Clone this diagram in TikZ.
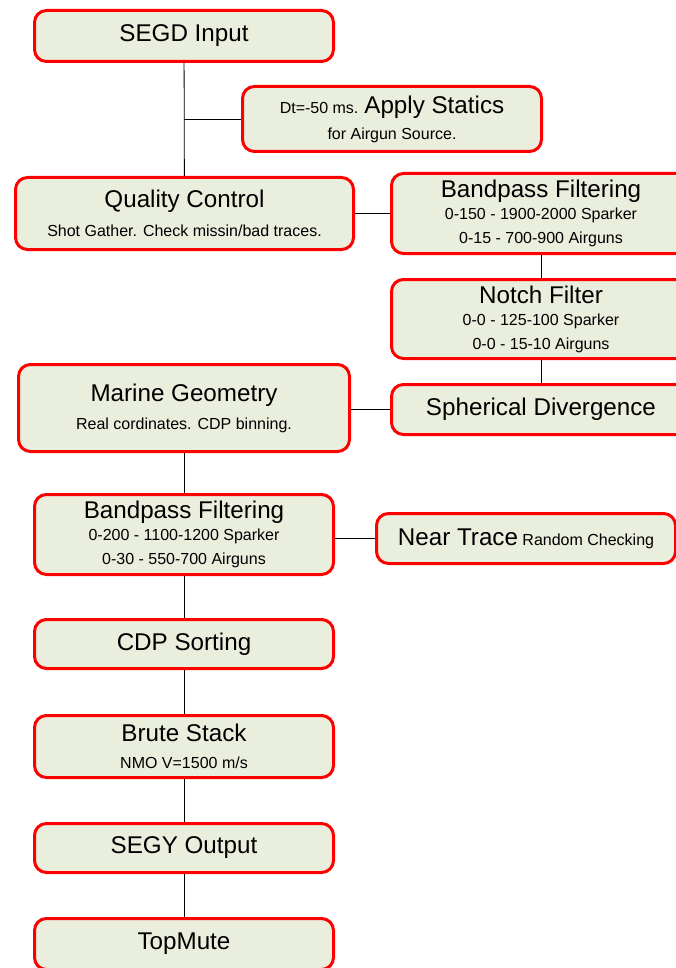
\documentclass[tikz,border=0pt]{standalone}
\usepackage{fontspec}
\setmainfont{Liberation Sans}
\usetikzlibrary{positioning}
\definecolor{boxfill}{RGB}{234,238,221}
\definecolor{boxred}{RGB}{255,0,0}
\newcommand{\ttl}[1]{{\fontsize{24.2}{22}\selectfont #1}}

\begin{document}
\begin{tikzpicture}[
    x=1pt, y=-1pt,
    stepbox/.style={draw=boxred, fill=boxfill, line width=3pt, rounded corners=12pt,
        minimum width=299pt, align=center, inner sep=2pt,
        font=\fontsize{16}{22}\selectfont},
    link/.style={draw=black, line width=0.8pt}
]
    \useasboundingbox (0,0) rectangle (675,968);

    \node[stepbox, minimum height=51pt] (segd) at (184,36) {\ttl{SEGD Input}};
    \node[stepbox, minimum height=65pt] (statics) at (392,119)
        {Dt=-50 ms. \ttl{Apply Statics}\\[4pt] for Airgun Source.};
    \node[stepbox, minimum width=338pt, minimum height=72pt] (qc) at (184.5,213.5)
        {\ttl{Quality Control}\\[7pt] Shot Gather. Check missin/bad traces.};
    \node[stepbox, minimum height=80pt] (bp1) at (541,213.5)
        {\ttl{Bandpass Filtering}\\ 0-150 - 1900-2000 Sparker\\[1.5pt] 0-15 - 700-900 Airguns};
    \node[stepbox, minimum height=79pt] (notch) at (541,319)
        {\ttl{Notch Filter}\\ 0-0 - 125-100 Sparker\\[2pt] 0-0 - 15-10 Airguns};
    \node[stepbox, minimum height=50pt] (sph) at (541,409.5) {\ttl{Spherical Divergence}};
    \node[stepbox, minimum width=331pt, minimum height=87pt] (geom) at (184,408)
        {\ttl{Marine Geometry}\\[6pt] Real cordinates. CDP binning.};
    \node[stepbox, minimum height=80pt] (bp2) at (184,534.5)
        {\ttl{Bandpass Filtering}\\ 0-200 - 1100-1200 Sparker\\[1.5pt] 0-30 - 550-700 Airguns};
    \node[stepbox, minimum height=50pt] (near) at (526,538.5)
        {\ttl{Near Trace} Random Checking};
    \node[stepbox, minimum height=49pt] (cdp) at (184,644) {\ttl{CDP Sorting}};
    \node[stepbox, minimum height=62pt] (brute) at (184,746.5)
        {\ttl{Brute Stack}\\[5pt] NMO V=1500 m/s};
    \node[stepbox, minimum height=49pt] (segy) at (184,848) {\ttl{SEGY Output}};
    \node[stepbox, minimum height=51pt] (topmute) at (184,944) {\ttl{TopMute}};

    \draw[link] (segd) -- (qc);
    \draw[link] (statics.west) -- (segd |- statics.west);
    \draw[link] (qc.east) -- (bp1.west);
    \draw[link] (bp1) -- (notch);
    \draw[link] (notch) -- (sph);
    \draw[link] (sph.west) -- (sph.west -| geom.east);
    \draw[link] (geom) -- (bp2);
    \draw[link] (near.west) -- (near.west -| bp2.east);
    \foreach \a/\b in {bp2/cdp, cdp/brute, brute/segy, segy/topmute} {
        \draw[link] (\a) -- (\b);
    }
\end{tikzpicture}
\end{document}
